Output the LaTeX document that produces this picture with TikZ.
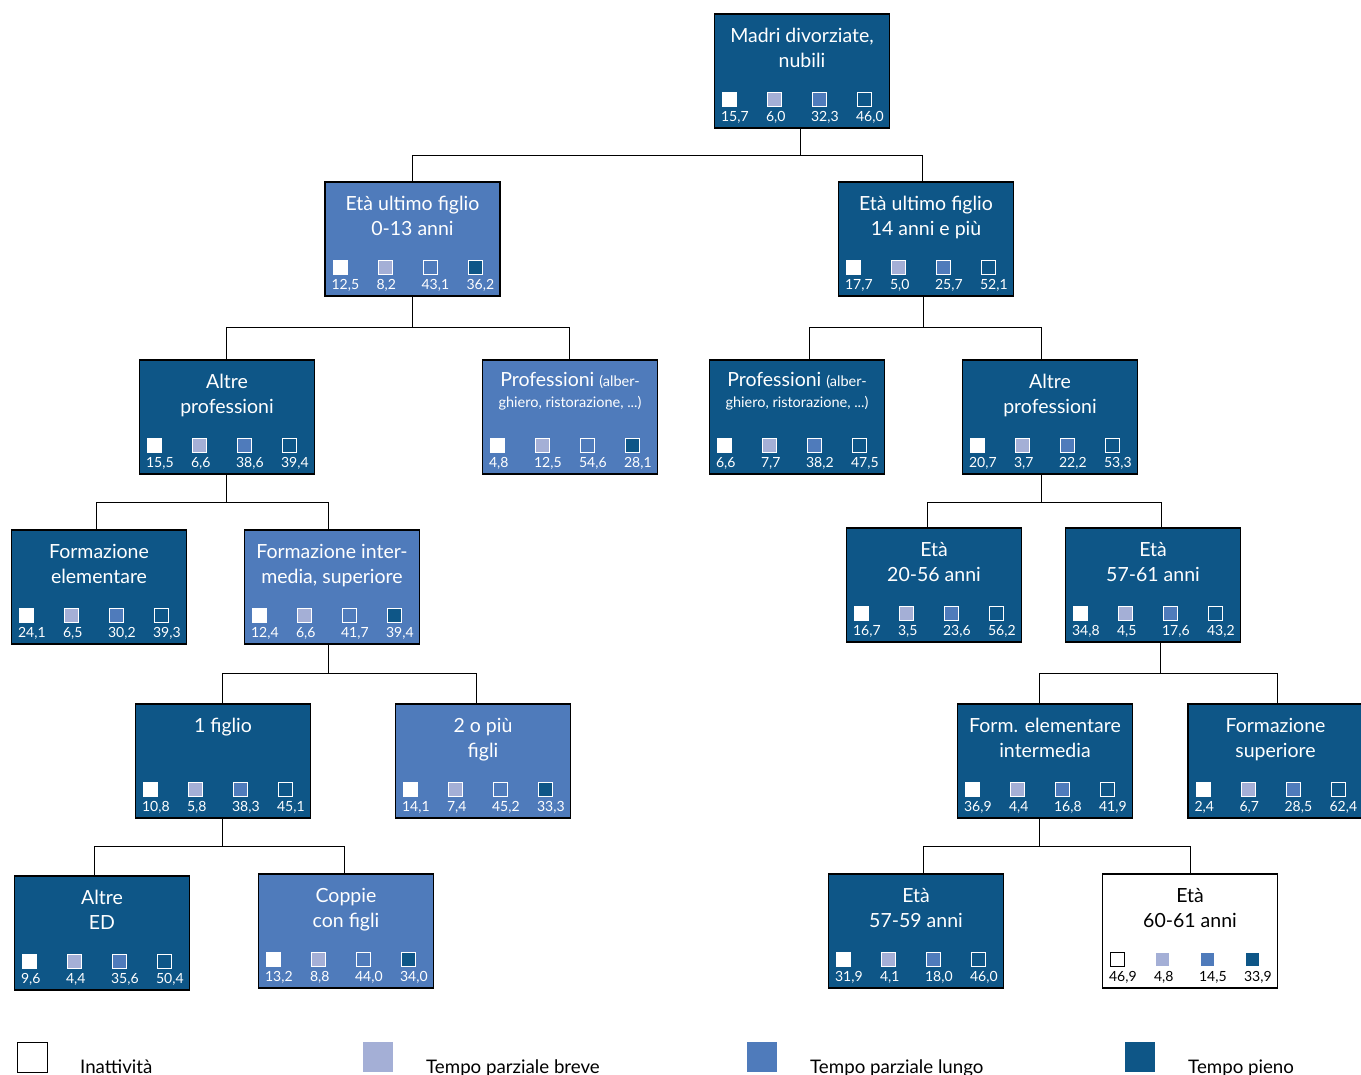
\documentclass[tikz,border=0pt]{standalone}
\usepackage{fontspec}
\setmainfont{Lato}
\definecolor{cDark}{HTML}{0E5687}
\definecolor{cMed}{HTML}{4F7BBB}
\definecolor{cLight}{HTML}{A4AFD6}
\tikzset{
  box/.style={draw=black, line width=1.2pt, minimum width=175pt, minimum height=114pt, inner sep=0pt},
  ttl/.style={anchor=north, align=center, inner sep=0pt, font=\fontsize{19.5}{25}\selectfont},
  sq/.style={minimum size=14pt, inner sep=0pt, line width=1.1pt},
  num/.style={inner sep=0pt, font=\fontsize{14}{15}\selectfont},
  conn/.style={draw=black, line width=1pt},
  legsq/.style={minimum size=30pt, inner sep=0pt},
  legtxt/.style={anchor=base west, inner sep=0pt, font=\fontsize{18.7}{20}\selectfont}
}
\newcommand\sqv[6]{% name, i, fill, draw, value, textcolor
  \path (#1.north west) ++({16+45*(#2-1)},86) node[sq, fill=#3, draw=#4] (#1-s#2) {}
    ++(-9,18) node[num, anchor=west, text=#6] (#1-n#2) {#5};
}
\newcommand\tbox[7][-14.5pt]{% [title shift], name, cx, top, fill, textcolor, title
  \node[box, fill=#5] (#2) at (#3,#4+57) {};
  \node[ttl, text=#6] (#2-t) at ([yshift=#1]#2.north) {#7};
}
\newcommand\vals[6]{% name, color, v1..v4
  \sqv{#1}{1}{white}{#2}{#3}{#2}
  \sqv{#1}{2}{cLight}{white}{#4}{#2}
  \sqv{#1}{3}{cMed}{white}{#5}{#2}
  \sqv{#1}{4}{cDark}{white}{#6}{#2}
}
\newcommand\sm[1]{{\fontsize{14.5}{16}\selectfont #1}}
\begin{document}
\begin{tikzpicture}[x=1pt,y=-1pt]
\clip (0,0) rectangle (1361,1075);
\fill[white] (0,0) rectangle (1361,1075);

\tbox{root}{802}{14}{cDark}{white}{Madri divorziate,\\nubili}
\vals{root}{white}{15,7}{6,0}{32,3}{46,0}

\tbox{lA}{412.5}{182}{cMed}{white}{Età ultimo figlio\\0-13 anni}
\vals{lA}{white}{12,5}{8,2}{43,1}{36,2}
\tbox{rA}{926}{182}{cDark}{white}{Età ultimo figlio\\14 anni e più}
\vals{rA}{white}{17,7}{5,0}{25,7}{52,1}

\tbox{altL}{227}{360}{cDark}{white}{Altre\\professioni}
\vals{altL}{white}{15,5}{6,6}{38,6}{39,4}
\tbox[-12.5pt]{profL}{570}{360}{cMed}{white}{Professioni \sm{(alber-}\\[-4pt]\sm{ghiero, ristorazione, ...)}}
\vals{profL}{white}{4,8}{12,5}{54,6}{28,1}
\tbox[-12.5pt]{profR}{797}{360}{cDark}{white}{Professioni \sm{(alber-}\\[-4pt]\sm{ghiero, ristorazione, ...)}}
\vals{profR}{white}{6,6}{7,7}{38,2}{47,5}
\tbox{altR}{1050}{360}{cDark}{white}{Altre\\professioni}
\vals{altR}{white}{20,7}{3,7}{22,2}{53,3}

\tbox{formEl}{99}{530}{cDark}{white}{Formazione\\elementare}
\vals{formEl}{white}{24,1}{6,5}{30,2}{39,3}
\tbox{formInt}{332}{530}{cMed}{white}{Formazione inter-\\media, superiore}
\vals{formInt}{white}{12,4}{6,6}{41,7}{39,4}
\tbox{etaA}{934}{528}{cDark}{white}{Età\\20-56 anni}
\vals{etaA}{white}{16,7}{3,5}{23,6}{56,2}
\tbox{etaB}{1153}{528}{cDark}{white}{Età\\57-61 anni}
\vals{etaB}{white}{34,8}{4,5}{17,6}{43,2}

\tbox{figA}{223}{704}{cDark}{white}{1 figlio}
\vals{figA}{white}{10,8}{5,8}{38,3}{45,1}
\tbox{figB}{483}{704}{cMed}{white}{2 o più\\figli}
\vals{figB}{white}{14,1}{7,4}{45,2}{33,3}
\tbox{formEI}{1045}{704}{cDark}{white}{Form. elementare\\intermedia}
\vals{formEI}{white}{36,9}{4,4}{16,8}{41,9}
\tbox{formSup}{1275.5}{704}{cDark}{white}{Formazione\\superiore}
\vals{formSup}{white}{2,4}{6,7}{28,5}{62,4}

\tbox{altED}{102}{876}{cDark}{white}{Altre\\ED}
\vals{altED}{white}{9,6}{4,4}{35,6}{50,4}
\tbox{coppie}{346}{874}{cMed}{white}{Coppie\\con figli}
\vals{coppie}{white}{13,2}{8,8}{44,0}{34,0}
\tbox{etaC}{916}{874}{cDark}{white}{Età\\57-59 anni}
\vals{etaC}{white}{31,9}{4,1}{18,0}{46,0}
\tbox{etaD}{1190}{874}{white}{black}{Età\\60-61 anni}
\vals{etaD}{black}{46,9}{4,8}{14,5}{33,9}

% connectors: parent / parent x-offset / drop / child a / offset a / child b / offset b
\foreach \p/\dp/\h/\a/\da/\b/\db in {
  root/-2/27/lA/0/rA/-4,
  lA/0/31/altL/-1/profL/-1,
  rA/-3/31/profR/12/altR/-9,
  altL/-1/28/formEl/-3/formInt/-4,
  altR/-9/28/etaA/-7/etaB/8,
  formInt/-4/29/figA/-1/figB/-7,
  etaB/7/31/formEI/-6/formSup/1.5,
  figA/-1/28/altED/-8/coppie/-2,
  formEI/-6/28/etaC/7/etaD/0}{
  \draw[conn] ([xshift=\dp pt]\p.south) -- ++(0,\h) -| ([xshift=\da pt]\a.north);
  \draw[conn] ([xshift=\dp pt]\p.south) -- ++(0,\h) -| ([xshift=\db pt]\b.north);
}

% legend
\node[legsq, fill=white, draw=black, line width=0.8pt] (lg1) at (32,1057) {};
\node[legtxt] (lt1) at (80,1073) {Inattività};
\node[legsq, fill=cLight] (lg2) at (378,1057) {};
\node[legtxt] (lt2) at (426,1073) {Tempo parziale breve};
\node[legsq, fill=cMed] (lg3) at (762,1057) {};
\node[legtxt] (lt3) at (810,1073) {Tempo parziale lungo};
\node[legsq, fill=cDark] (lg4) at (1140,1057) {};
\node[legtxt] (lt4) at (1188,1073) {Tempo pieno};
\end{tikzpicture}
\end{document}
